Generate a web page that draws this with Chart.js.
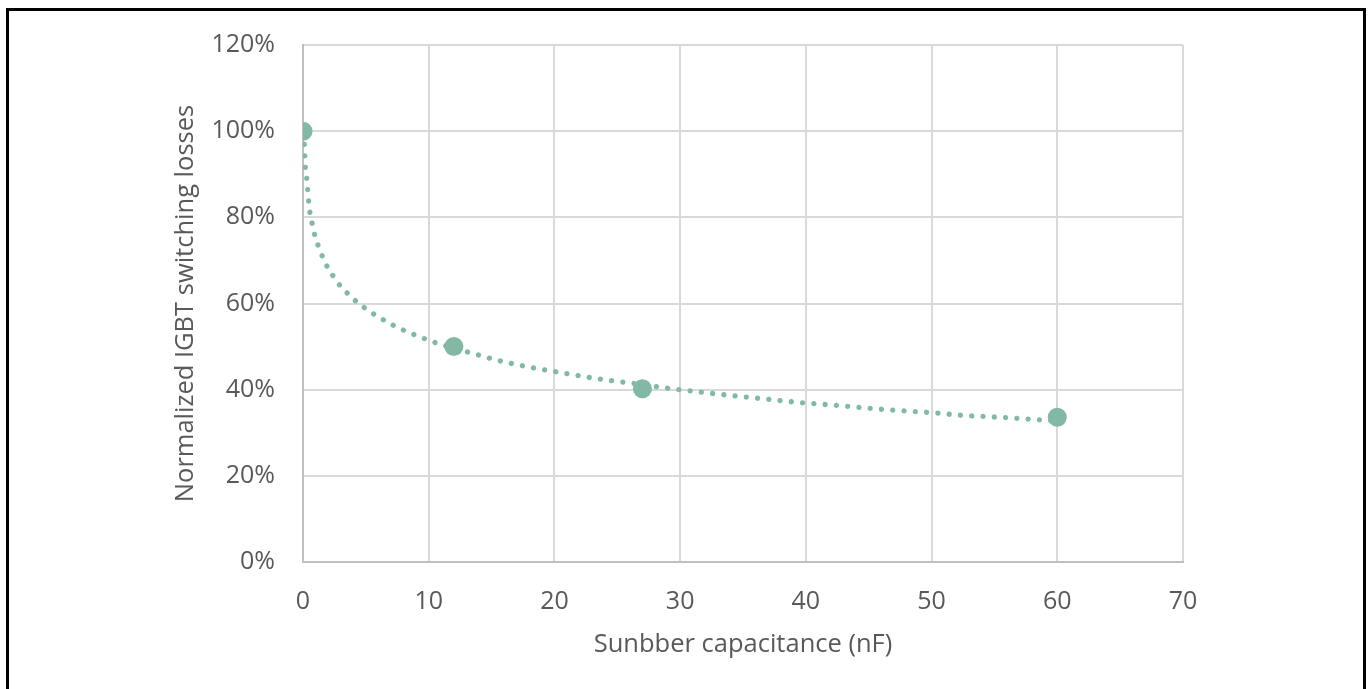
<!DOCTYPE html>
<html>
<head>
<meta charset="utf-8">
<script src="https://cdn.jsdelivr.net/npm/chart.js@4/dist/chart.umd.min.js"></script>
<style>
  html, body { margin: 0; padding: 0; background: #fff; }
  #wrap { position: relative; width: 1370px; height: 689px; overflow: hidden; }
  #frame { position: absolute; left: 6px; top: 8px; width: 1354px; height: 700px;
           border: 3px solid #000; border-bottom: none; }
  canvas { position: absolute; left: 0; top: 0; }
</style>
</head>
<body>
<div id="wrap">
  <div id="frame"></div>
  <canvas id="c" width="1370" height="689"></canvas>
</div>
<script>
// Measured switching losses vs. snubber capacitance
const capacitance = [0, 12, 27, 60];          // nF
const lossPercent = [100, 50, 40.2, 33.6];     // % of unsnubbered losses

// Dotted trend curve, sampled along its path
const trendCap = [0, 0.10, 0.14, 0.18, 0.29, 0.37, 0.45, 0.56, 0.74, 0.95, 1.25, 1.59, 1.99, 2.49,
  3.05, 3.68, 4.35, 5.09, 5.86, 6.66, 7.40, 8.17, 10.64, 13.15, 15.65, 18.24, 20.84, 23.49,
  26.15, 28.82, 31.45, 34.18, 36.89, 39.53, 42.24, 44.94, 47.65, 50.35, 52.16, 55.3, 58.5, 60];
const trendLoss = [99.5, 97.2, 94.5, 91.8, 89.1, 86.4, 83.6, 80.9, 78.4, 75.7, 73.1, 70.6, 68.2, 66.0,
  63.8, 62.0, 60.2, 58.6, 57.1, 55.8, 54.6, 53.6, 50.8, 48.7, 46.7, 45.1, 43.8, 42.5,
  41.5, 40.4, 39.5, 38.6, 37.8, 37.0, 36.4, 35.7, 35.1, 34.6, 34.1, 33.6, 33.0, 32.7];

const xTicks = [0, 10, 20, 30, 40, 50, 60, 70];
const yTicks = [0, 20, 40, 60, 80, 100, 120];

const xTitle = 'Sunbber capacitance (nF)';
const yTitle = 'Normalized IGBT switching losses';

const green = '#82B9A5';
const textGray = '#595959';
const fontFamily = '"Open Sans", "DejaVu Sans", sans-serif';

const pointData = capacitance.map((x, i) => ({ x, y: lossPercent[i] }));
const trendData = trendCap.map((x, i) => ({ x, y: trendLoss[i] }));

new Chart(document.getElementById('c'), {
  type: 'scatter',
  data: {
    datasets: [
      {
        label: 'Losses',
        data: pointData,
        backgroundColor: green,
        borderColor: green,
        pointRadius: 9.5,
        pointHoverRadius: 9.5,
        borderWidth: 0,
        order: 0
      },
      {
        label: 'Trend',
        data: trendData,
        showLine: true,
        pointRadius: 0,
        borderColor: green,
        borderWidth: 5.3,
        borderDash: [0.01, 11.3],
        borderCapStyle: 'round',
        cubicInterpolationMode: 'monotone',
        fill: false,
        order: 1
      }
    ]
  },
  options: {
    responsive: false,
    animation: false,
    events: [],
    layout: { padding: { left: 170, top: 45, right: 187, bottom: 29 } },
    plugins: { legend: { display: false }, tooltip: { enabled: false } },
    scales: {
      x: {
        type: 'linear',
        min: 0, max: 70,
        afterBuildTicks: s => { s.ticks = xTicks.map(v => ({ value: v })); },
        afterFit: s => { s.height = 98; },
        grid: { color: '#D9D9D9', lineWidth: 2, drawTicks: false },
        border: { color: '#BFBFBF', width: 2 },
        ticks: { color: textGray, font: { family: fontFamily, size: 25 }, padding: 25,
                 maxRotation: 0, callback: v => String(v) },
        title: { display: true, text: xTitle, color: textGray,
                 font: { family: fontFamily, size: 25.5 }, padding: 0 }
      },
      y: {
        type: 'linear',
        min: 0, max: 120,
        afterBuildTicks: s => { s.ticks = yTicks.map(v => ({ value: v })); },
        afterFit: s => { s.width = 303 - 170; },
        grid: { color: '#D9D9D9', lineWidth: 2, drawTicks: false },
        border: { color: '#BFBFBF', width: 2 },
        ticks: { color: textGray, font: { family: fontFamily, size: 25 }, padding: 28,
                 callback: v => v + '%' },
        title: { display: true, text: yTitle, color: textGray,
                 font: { family: fontFamily, size: 25.5 }, padding: 0 }
      }
    }
  }
});
</script>
</body>
</html>
